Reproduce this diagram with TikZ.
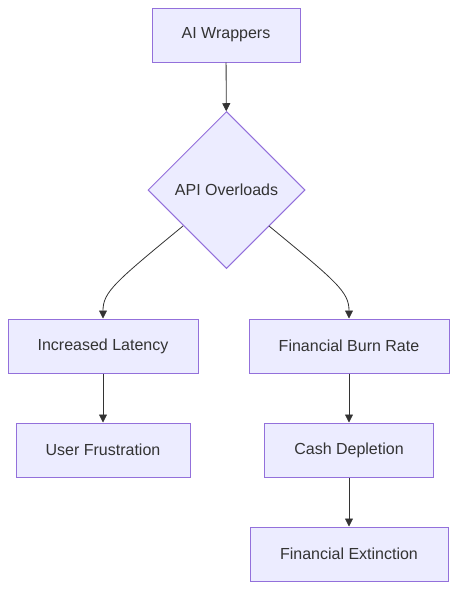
\documentclass[tikz,border=0pt]{standalone}
\usepackage{fontspec}
\setmainfont{Liberation Sans}
\usetikzlibrary{arrows.meta,shapes.geometric}
\definecolor{nodefill}{HTML}{ECECFF}
\definecolor{nodeline}{HTML}{9370DB}
\definecolor{edgecol}{HTML}{333333}
\begin{document}
\begin{tikzpicture}[x=1pt,y=-1pt,
  box/.style={draw=nodeline,fill=nodefill,line width=1pt,inner sep=0pt,text=edgecol,font=\fontsize{16}{19}\selectfont},
  dia/.style={draw=nodeline,fill=nodefill,line width=1pt,diamond,aspect=1,inner sep=0pt,minimum width=157pt,minimum height=157pt,text=edgecol,font=\fontsize{16}{19}\selectfont},
  edge/.style={draw=edgecol,line width=0.8pt,-{Triangle[length=8pt,width=8pt]}}]
\useasboundingbox (0,0) rectangle (457,589);
\node[box,minimum width=148pt,minimum height=54pt] (a) at (226,35) {AI Wrappers};
\node[dia] (b) at (226.5,190) {API Overloads};
\node[box,minimum width=190pt,minimum height=54pt] (c) at (103,346) {Increased Latency};
\node[box,minimum width=200pt,minimum height=54pt] (d) at (349,346) {Financial Burn Rate};
\node[box,minimum width=174pt,minimum height=54pt] (e) at (103,450) {User Frustration};
\node[box,minimum width=169pt,minimum height=54pt] (f) at (349,450) {Cash Depletion};
\node[box,minimum width=198pt,minimum height=54pt] (g) at (349,554) {Financial Extinction};
\coordinate (bl) at (183,226);
\coordinate (br) at (269,226);
\draw[edge] (a) -- (b);
\draw[edge] (bl) .. controls (115,282) and (103,292) .. (c.north);
\draw[edge] (br) .. controls (337,282) and (349,292) .. (d.north);
\draw[edge] (c) -- (e);
\draw[edge] (d) -- (f);
\draw[edge] (f) -- (g);
\end{tikzpicture}
\end{document}
